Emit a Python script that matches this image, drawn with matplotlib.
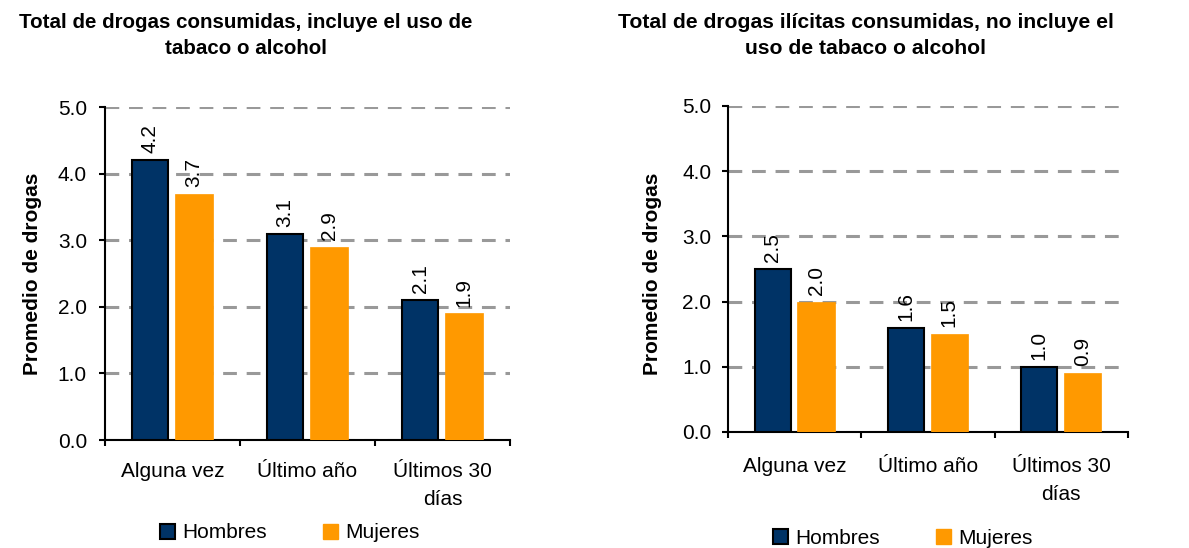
import matplotlib
matplotlib.use("Agg")
import matplotlib.pyplot as plt
from matplotlib.patches import Patch

plt.rcParams['font.family'] = ['Liberation Sans', 'DejaVu Sans']

categories = ["Alguna vez", "Último año", "Últimos 30\ndías"]
series_names = ["Hombres", "Mujeres"]
left_hombres = [4.2, 3.1, 2.1]
left_mujeres = [3.7, 2.9, 1.9]
right_hombres = [2.5, 1.6, 1.0]
right_mujeres = [2.0, 1.5, 0.9]
yticks = [0.0, 1.0, 2.0, 3.0, 4.0, 5.0]
title_left = "Total de drogas consumidas, incluye el uso de\ntabaco o alcohol"
title_right = "Total de drogas ilícitas consumidas, no incluye el\nuso de tabaco o alcohol"
ylabel = "Promedio de drogas"

NAVY = "#003366"
ORANGE = "#FF9900"
GRID = "#999999"
FS = 15

fig = plt.figure(figsize=(11.89, 5.48), dpi=100)

def draw(ax, hom, muj, xpad, ypad, ylab_x):
    n = len(categories)
    xs = list(range(n))
    w1, w2 = 0.27, 0.28
    ax.bar([x + 0.2 + w1 / 2 for x in xs], hom, width=w1, color=NAVY,
           edgecolor="black", linewidth=1.5, zorder=3)
    ax.bar([x + 0.8 - w2 / 2 for x in xs], muj, width=w2, color=ORANGE,
           edgecolor=ORANGE, linewidth=0.5, zorder=3)
    for x, v in zip(xs, hom):
        ax.annotate(f"{v:.1f}", (x + 0.2 + w1 / 2, v), xytext=(0, 5),
                    textcoords="offset points", rotation=90, ha="center",
                    va="bottom", fontsize=FS, zorder=4)
    for x, v in zip(xs, muj):
        ax.annotate(f"{v:.1f}", (x + 0.8 - w2 / 2, v), xytext=(0, 5),
                    textcoords="offset points", rotation=90, ha="center",
                    va="bottom", fontsize=FS, zorder=4)
    ax.set_xlim(0, n)
    ax.set_ylim(0, 5.0)
    ax.set_yticks(yticks)
    ax.set_yticklabels([f"{t:.1f}" for t in yticks], fontsize=FS)
    ax.set_xticks(range(n + 1))
    ax.set_xticklabels([])
    ax.set_xticks([x + 0.5 for x in xs], minor=True)
    ax.set_xticklabels(categories, minor=True, fontsize=FS, linespacing=1.6)
    ax.tick_params(axis="x", which="minor", length=0, pad=xpad)
    ax.tick_params(axis="x", which="major", length=4.5, width=1.5, direction="out")
    ax.tick_params(axis="y", length=4.5, width=1.5, direction="out", pad=ypad)
    for s in ["top", "right"]:
        ax.spines[s].set_visible(False)
    for s in ["left", "bottom"]:
        ax.spines[s].set_linewidth(1.5)
    ax.yaxis.grid(True, color=GRID, linewidth=2.2, linestyle=(0, (4.5, 3.2)), zorder=1)
    ax.set_axisbelow(True)
    ax.set_ylabel(ylabel, fontsize=FS, fontweight="bold")
    ax.yaxis.set_label_coords(ylab_x, 0.5, transform=fig.transFigure)
    ax.yaxis.label.set_va("center")

axL = fig.add_axes([0.0883, 0.197, 0.3406, 0.6077])
draw(axL, left_hombres, left_mujeres, 16, 8.5, 33 / 1189)
axR = fig.add_axes([0.6123, 0.2117, 0.3364, 0.5949])
draw(axR, right_hombres, right_mujeres, 18, 7.5, 653 / 1189)

fig.text(0.207, 0.935, title_left, ha="center", va="center", fontsize=14.8,
         fontweight="bold", linespacing=1.42)
fig.text(0.728, 0.935, title_right, ha="center", va="center", fontsize=15.2,
         fontweight="bold", linespacing=1.42)

handles = [Patch(facecolor=NAVY, edgecolor="black", linewidth=1.5),
           Patch(facecolor=ORANGE, edgecolor=ORANGE)]
for cx, cy in [(290, 533), (903, 538)]:
    fig.legend(handles, series_names, loc="center", ncol=2, frameon=False,
               fontsize=FS, handlelength=0.72, handleheight=0.72,
               handletextpad=0.35, columnspacing=2.7, borderpad=0, borderaxespad=0,
               bbox_to_anchor=(cx / 1189, 1 - cy / 548), bbox_transform=fig.transFigure)

fig.savefig("out.png", dpi=100)
